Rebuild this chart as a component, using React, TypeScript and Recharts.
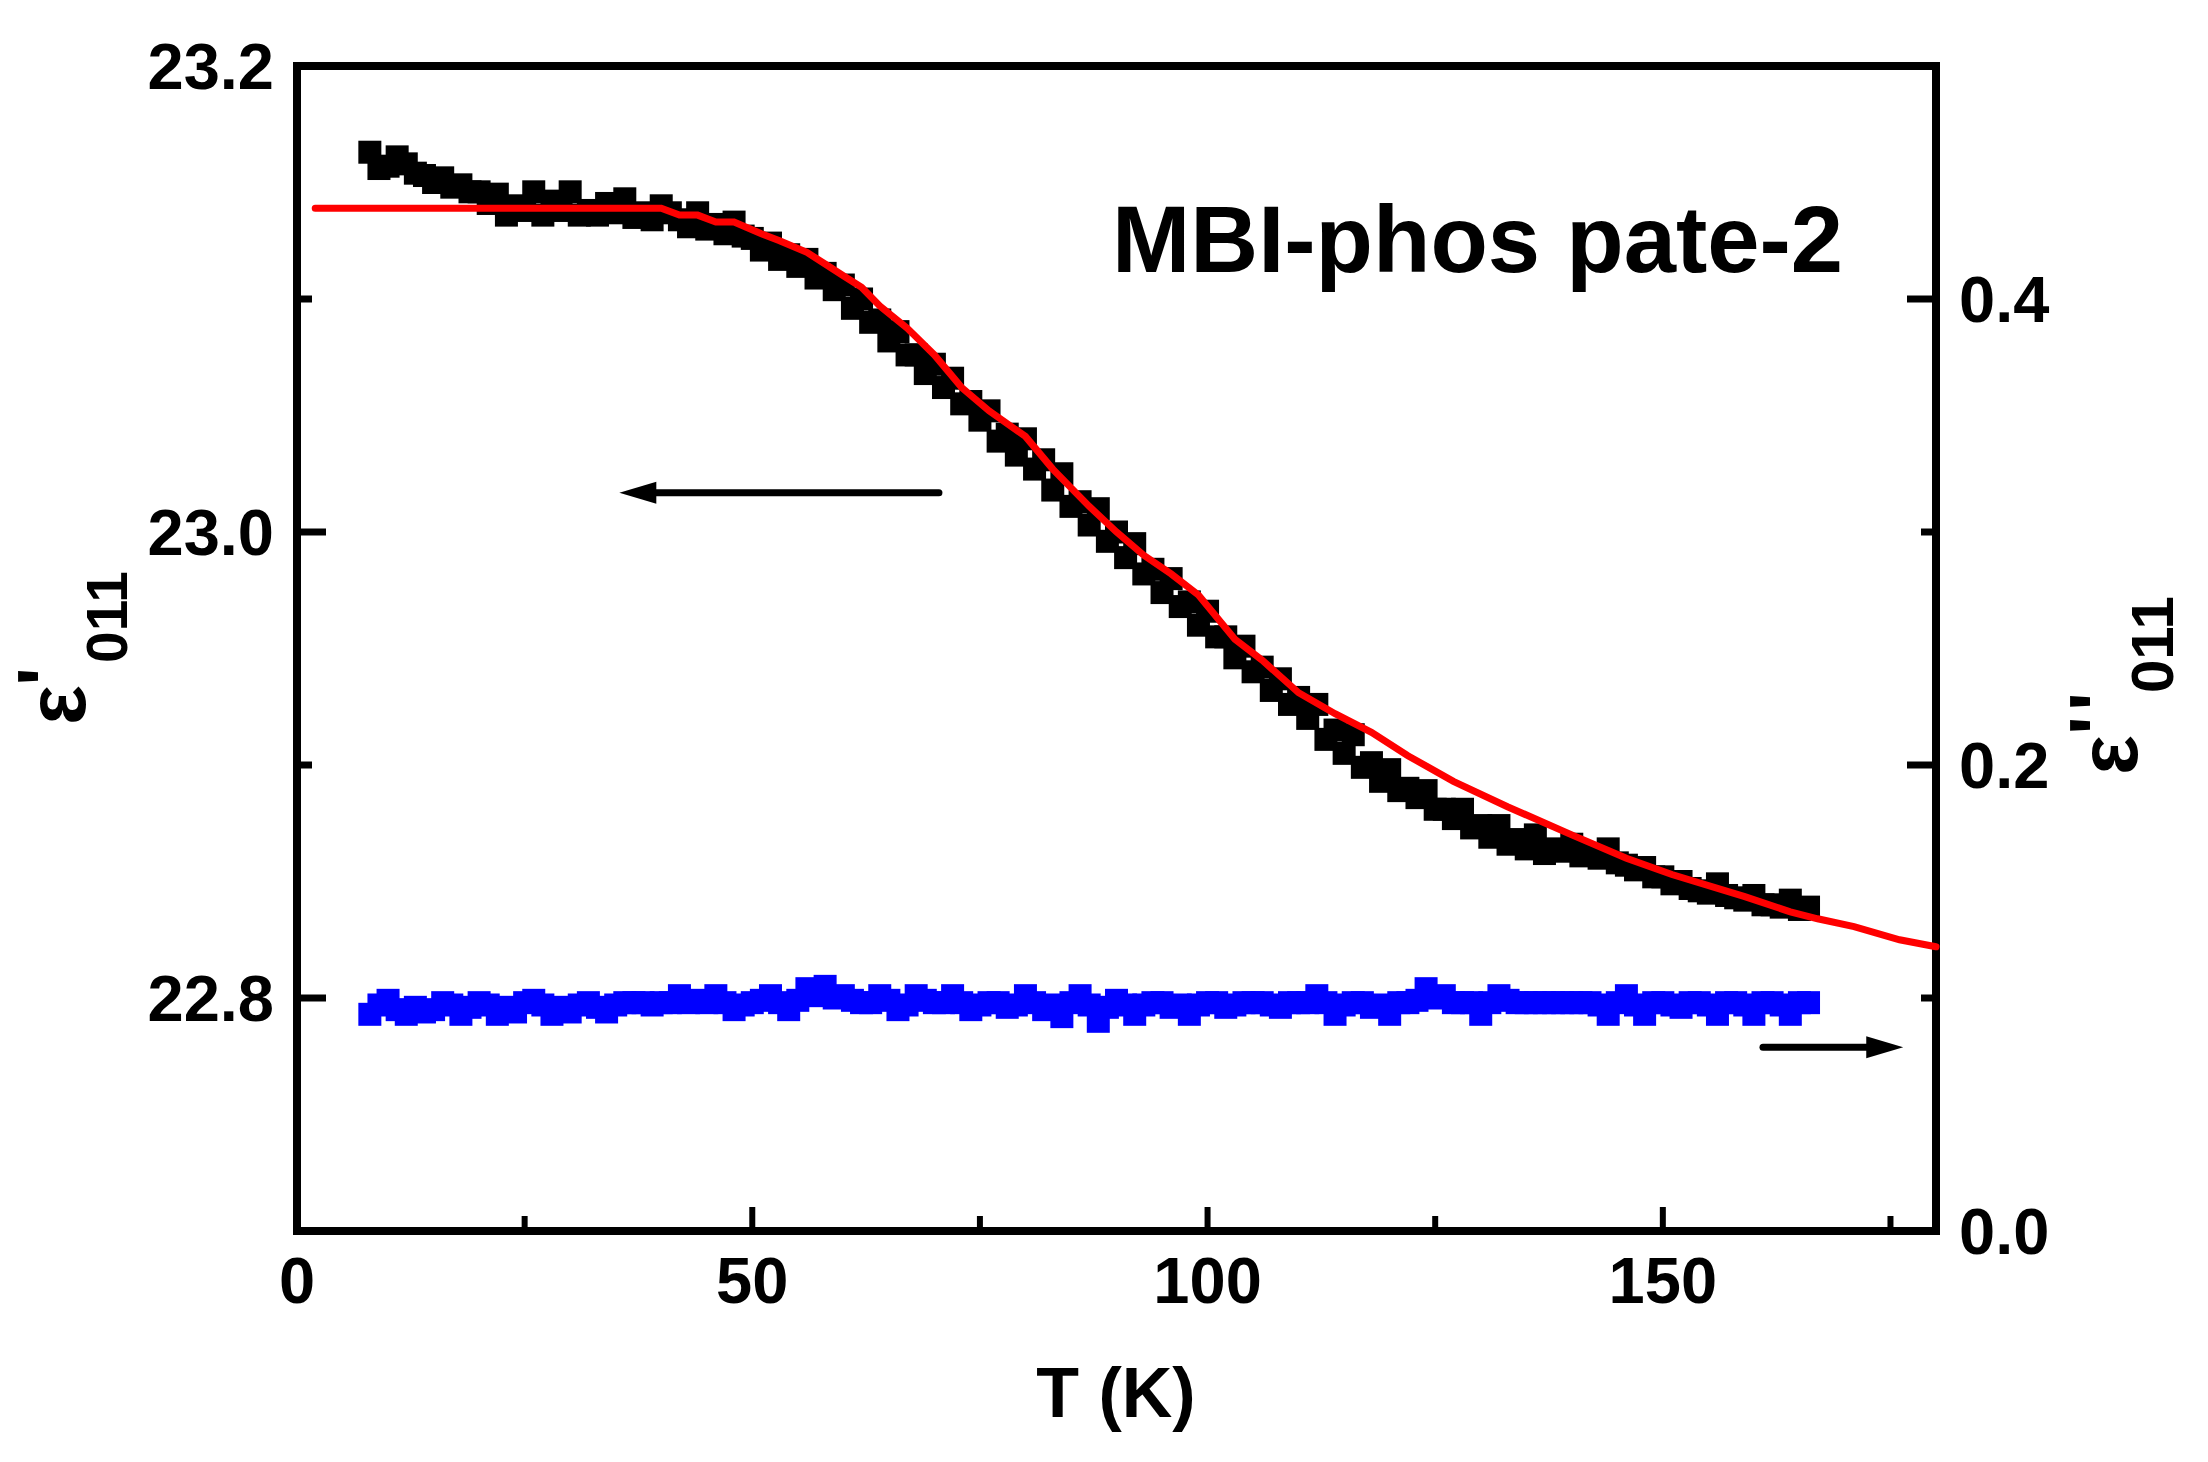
import React from "react";
import { ComposedChart, Scatter, Line, XAxis, YAxis, ReferenceArea, ReferenceLine } from "recharts";

// measured temperature grid (K), two interleaved sweeps
const tempEven = [8, 10, 12, 14, 16, 18, 20, 22, 24, 26, 28, 30, 32, 34, 36, 38, 40, 42, 44, 46,
  48, 50, 52, 54, 56, 58, 60, 62, 64, 66, 68, 70, 72, 74, 76, 78, 80, 82, 84, 86,
  88, 90, 92, 94, 96, 98, 100, 102, 104, 106, 108, 110, 112, 114, 116, 118, 120, 122, 124, 126,
  128, 130, 132, 134, 136, 138, 140, 142, 144, 146, 148, 150, 152, 154, 156, 158, 160, 162, 164, 166];
const tempOdd = [9, 11, 13, 15, 17, 19, 21, 23, 25, 27, 29, 31, 33, 35, 37, 39, 41, 43, 45, 47,
  49, 51, 53, 55, 57, 59, 61, 63, 65, 67, 69, 71, 73, 75, 77, 79, 81, 83, 85, 87,
  89, 91, 93, 95, 97, 99, 101, 103, 105, 107, 109, 111, 113, 115, 117, 119, 121, 123, 125, 127,
  129, 131, 133, 135, 137, 139, 141, 143, 145, 147, 149, 151, 153, 155, 157, 159, 161, 163, 165];

// eps' (left axis)
const epsRealEven = [23.163, 23.157, 23.158, 23.153, 23.152, 23.149, 23.146, 23.145, 23.140, 23.146,
  23.142, 23.146, 23.138, 23.141, 23.143, 23.137, 23.140, 23.134, 23.137, 23.132,
  23.133, 23.126, 23.124, 23.119, 23.117, 23.111, 23.106, 23.100, 23.091, 23.086,
  23.076, 23.072, 23.066, 23.056, 23.052, 23.042, 23.040, 23.031, 23.025, 23.013,
  23.010, 23.000, 22.995, 22.984, 22.980, 22.970, 22.966, 22.955, 22.951, 22.942,
  22.937, 22.929, 22.926, 22.915, 22.913, 22.901, 22.898, 22.890, 22.889, 22.881,
  22.881, 22.874, 22.874, 22.868, 22.870, 22.864, 22.866, 22.862, 22.864, 22.857,
  22.856, 22.852, 22.850, 22.846, 22.849, 22.843, 22.844, 22.840, 22.842, 22.839];
const epsRealOdd = [23.156, 23.161, 23.154, 23.150, 23.148, 23.146, 23.141, 23.136, 23.138, 23.136,
  23.138, 23.136, 23.136, 23.137, 23.135, 23.134, 23.137, 23.131, 23.130, 23.128,
  23.127, 23.121, 23.117, 23.114, 23.109, 23.104, 23.096, 23.090, 23.082, 23.076,
  23.068, 23.062, 23.055, 23.048, 23.039, 23.033, 23.027, 23.018, 23.011, 23.003,
  22.996, 22.989, 22.982, 22.974, 22.968, 22.960, 22.955, 22.946, 22.940, 22.932,
  22.926, 22.920, 22.911, 22.905, 22.899, 22.893, 22.889, 22.886, 22.881, 22.877,
  22.873, 22.869, 22.866, 22.864, 22.862, 22.863, 22.861, 22.860, 22.858, 22.855,
  22.852, 22.849, 22.847, 22.845, 22.844, 22.842, 22.840, 22.839, 22.838];

// eps'' (right axis)
const epsImagEven = [0.093, 0.099, 0.093, 0.094, 0.098, 0.093, 0.098, 0.093, 0.094, 0.099,
  0.093, 0.094, 0.098, 0.094, 0.098, 0.098, 0.098, 0.101, 0.099, 0.101,
  0.095, 0.098, 0.101, 0.095, 0.104, 0.105, 0.101, 0.098, 0.101, 0.095,
  0.101, 0.098, 0.101, 0.095, 0.098, 0.096, 0.101, 0.095, 0.092, 0.101,
  0.090, 0.099, 0.093, 0.098, 0.096, 0.093, 0.098, 0.096, 0.098, 0.098,
  0.096, 0.098, 0.101, 0.093, 0.098, 0.096, 0.093, 0.098, 0.104, 0.101,
  0.098, 0.093, 0.101, 0.098, 0.098, 0.098, 0.098, 0.098, 0.093, 0.101,
  0.093, 0.098, 0.096, 0.098, 0.093, 0.098, 0.093, 0.098, 0.093, 0.098];
const epsImagOdd = [0.097, 0.095, 0.096, 0.095, 0.097, 0.096, 0.097, 0.096, 0.098, 0.097,
  0.096, 0.097, 0.096, 0.097, 0.098, 0.097, 0.098, 0.098, 0.098, 0.098,
  0.097, 0.099, 0.098, 0.099, 0.101, 0.100, 0.099, 0.098, 0.099, 0.097,
  0.099, 0.098, 0.098, 0.097, 0.098, 0.097, 0.098, 0.097, 0.098, 0.097,
  0.096, 0.097, 0.097, 0.098, 0.097, 0.097, 0.098, 0.097, 0.098, 0.097,
  0.098, 0.098, 0.098, 0.097, 0.098, 0.097, 0.098, 0.099, 0.100, 0.098,
  0.098, 0.098, 0.099, 0.098, 0.098, 0.098, 0.098, 0.097, 0.098, 0.097,
  0.098, 0.097, 0.098, 0.097, 0.098, 0.097, 0.098, 0.097, 0.098];

// fit curve
const fitT = [2, 10, 20, 30, 40, 42, 44, 46, 48, 51, 53, 56, 58, 60, 62, 64, 67, 70, 73, 76, 80, 83,
  87, 90, 93, 96, 99, 103, 106, 110, 114, 118, 122, 127, 133, 140, 146, 151, 159, 164, 167, 171, 176, 180];
const fitEps = [23.139, 23.139, 23.139, 23.139, 23.139, 23.136, 23.136, 23.133, 23.133, 23.128, 23.125,
  23.12, 23.115, 23.11, 23.105, 23.097, 23.0875, 23.076, 23.062, 23.052, 23.041, 23.027, 23.011, 23.0,
  22.99, 22.982, 22.973, 22.954, 22.945, 22.931, 22.922, 22.914, 22.904, 22.893, 22.882, 22.87, 22.86,
  22.853, 22.8435, 22.837, 22.834, 22.8306, 22.825, 22.822];

const xTicks = [0, 25, 50, 75, 100, 125, 150, 175];
const xLabels = [0, 50, 100, 150];
const leftTicks = [22.8, 22.9, 23.0, 23.1, 23.2];
const leftLabels = [22.8, 23.0, 23.2];
const rightTicks = [0, 0.1, 0.2, 0.3, 0.4];
const rightLabels = [0, 0.2, 0.4];

const realData = [
  ...tempEven.map((T, i) => ({ T, eps: epsRealEven[i] })),
  ...tempOdd.map((T, i) => ({ T, eps: epsRealOdd[i] })),
];
const imagData = [
  ...tempEven.map((T, i) => ({ T, eps: epsImagEven[i] })),
  ...tempOdd.map((T, i) => ({ T, eps: epsImagOdd[i] })),
];
const fitData = fitT.map((T, i) => ({ T, eps: fitEps[i] }));

const FONT = "'Liberation Sans', Arial, Helvetica, sans-serif";
const GAP = 23;
const has = (arr: number[], v: number) => arr.some((a) => Math.abs(a - v) < 1e-6);

function BottomTick(props: any) {
  const { x, y, payload } = props;
  const v = payload.value;
  const major = has(xLabels, v);
  const y0 = y - GAP;
  return (
    <g>
      {v > 0 && <line x1={x} x2={x} y1={y0} y2={y0 - (major ? 24 : 15)} stroke="#000" strokeWidth={6} />}
      {major && (
        <text x={x} y={y + 49} textAnchor="middle" fontFamily={FONT} fontWeight="bold" fontSize={65} fill="#000">
          {v}
        </text>
      )}
    </g>
  );
}

function LeftTick(props: any) {
  const { x, y, payload } = props;
  const v = payload.value;
  const major = has(leftLabels, v);
  const x0 = x + GAP;
  return (
    <g>
      {v < 23.15 && <line x1={x0} x2={x0 + (major ? 29 : 15)} y1={y} y2={y} stroke="#000" strokeWidth={7} />}
      {major && (
        <text x={x} y={y + 23} textAnchor="end" fontFamily={FONT} fontWeight="bold" fontSize={65} fill="#000">
          {v.toFixed(1)}
        </text>
      )}
    </g>
  );
}

function RightTick(props: any) {
  const { x, y, payload } = props;
  const v = payload.value;
  const major = has(rightLabels, v);
  const x0 = x - GAP;
  return (
    <g>
      {v > 0 && <line x1={x0} x2={x0 - (major ? 29 : 15)} y1={y} y2={y} stroke="#000" strokeWidth={7} />}
      {major && (
        <text x={x} y={y + 23} textAnchor="start" fontFamily={FONT} fontWeight="bold" fontSize={65} fill="#000">
          {v.toFixed(1)}
        </text>
      )}
    </g>
  );
}

const square = (color: string) => (p: any) =>
  <rect x={p.cx - 11.5} y={p.cy - 11.5} width={23} height={23} fill={color} />;

function arrowShape(p: any) {
  const { x1, y1, x2, y2 } = p;
  const dx = x2 - x1, dy = y2 - y1;
  const len = Math.hypot(dx, dy) || 1;
  const ux = dx / len, uy = dy / len;
  const head = 37, half = 11;
  const bx = x2 - ux * head, by = y2 - uy * head;
  return (
    <g>
      <line x1={x1} y1={y1} x2={bx + ux * 3} y2={by + uy * 3} stroke="#000" strokeWidth={7} strokeLinecap="round" />
      <polygon points={`${x2},${y2} ${bx - uy * half},${by + ux * half} ${bx + uy * half},${by - ux * half}`} fill="#000" />
    </g>
  );
}

export default function App() {
  return (
    <div style={{ position: "relative", width: 2200, height: 1454 }}>
      <ComposedChart width={2200} height={1454} margin={{ top: 58, right: 72, bottom: 81, left: 89 }}>
        <XAxis dataKey="T" type="number" domain={[0, 180]} ticks={xTicks} interval={0} height={150}
          axisLine={false} tickLine={false} tickSize={0} tickMargin={GAP} tick={<BottomTick />} />
        <YAxis yAxisId="left" type="number" domain={[22.7, 23.2]} ticks={leftTicks} interval={0} width={200}
          axisLine={false} tickLine={false} tickSize={0} tickMargin={GAP} tick={<LeftTick />} />
        <YAxis yAxisId="right" orientation="right" type="number" domain={[0, 0.5]} ticks={rightTicks} interval={0} width={200}
          axisLine={false} tickLine={false} tickSize={0} tickMargin={GAP} tick={<RightTick />} />
        <Scatter yAxisId="left" data={realData} dataKey="eps" fill="#000" shape={square("#000")} isAnimationActive={false} />
        <Scatter yAxisId="right" data={imagData} dataKey="eps" fill="#0000ff" shape={square("#0000ff")} isAnimationActive={false} />
        <Line yAxisId="left" data={fitData} dataKey="eps" type="linear" stroke="#ff0000" strokeWidth={7}
          strokeLinecap="round" dot={false} activeDot={false} isAnimationActive={false} zIndex={700} />
        <ReferenceLine yAxisId="left" segment={[{ x: 70.5, y: 23.0168 }, { x: 35.4, y: 23.0168 }]} shape={arrowShape} />
        <ReferenceLine yAxisId="right" segment={[{ x: 161, y: 0.0789 }, { x: 176.4, y: 0.0789 }]} shape={arrowShape} />
        <ReferenceArea yAxisId="left" x1={0} x2={180} y1={22.7} y2={23.2} fill="none" fillOpacity={0}
          stroke="#000" strokeWidth={8} ifOverflow="visible" />
      </ComposedChart>
      <svg width={2216} height={1454} style={{ position: "absolute", left: -8, top: 0, pointerEvents: "none" }}
        fontFamily={FONT} fontWeight="bold" fill="#000">
        <g transform="translate(8,0)">
          <text x={1104} y={264} fontSize={94}>MBI-phos pate-2</text>
          <text x={1108} y={1409} fontSize={70} textAnchor="middle">T (K)</text>
          <g transform="translate(77,717) rotate(-90)">
            <text x={0} y={0} fontSize={84}>ε</text>
            <text x={39} y={-12} fontSize={80}>'</text>
            <text x={62} y={42} fontSize={57}>011</text>
          </g>
          <g transform="translate(2129,767) rotate(-90)">
            <text x={0} y={0} fontSize={84}>ε</text>
            <text x={40} y={-12} fontSize={80} letterSpacing={5}>''</text>
            <text x={82} y={36} fontSize={60}>011</text>
          </g>
        </g>
      </svg>
    </div>
  );
}
